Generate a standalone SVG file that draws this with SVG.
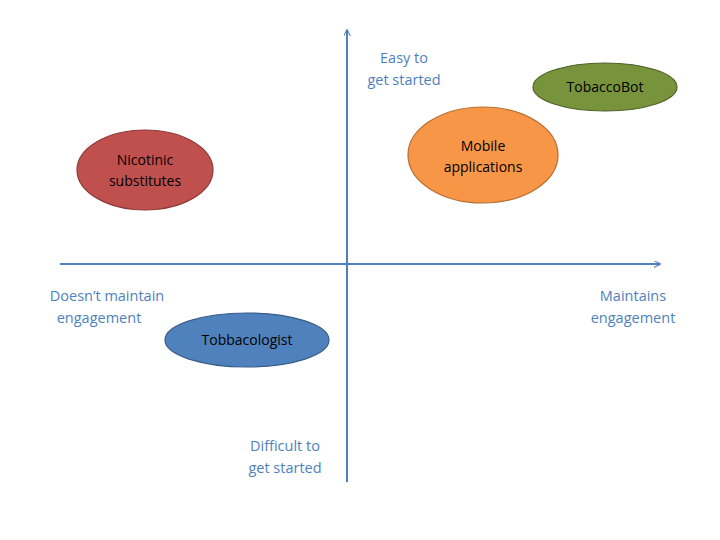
<svg xmlns="http://www.w3.org/2000/svg" width="720" height="540" viewBox="0 0 720 540">
<defs>
<marker id="ah" viewBox="0 0 10 10" refX="9" refY="5" markerWidth="7" markerHeight="7" orient="auto" markerUnits="userSpaceOnUse"><path d="M0,0 L10,5 L0,10" fill="none" stroke="#4f81bd" stroke-width="1.5"/></marker>
<style>
.ax{stroke:#4f81bd;stroke-width:2;fill:none}
.lbl{font-family:"Open Sans","Liberation Sans",Arial,sans-serif;font-size:14.5px;fill:#4f81bd;text-anchor:middle}
.nt{font-family:"Open Sans","Liberation Sans",Arial,sans-serif;font-size:14px;fill:#000;text-anchor:middle}
.el{stroke-width:1.2}
</style>
</defs>
<rect width="720" height="540" fill="#fff"/>
<g id="connectors">
<line class="ax" x1="347" y1="482" x2="347" y2="30" marker-end="url(#ah)"/>
<line class="ax" x1="60" y1="264" x2="660" y2="264" marker-end="url(#ah)"/>
</g>
<g id="labels">
<text class="lbl" x="404" y="63">Easy to</text><text class="lbl" x="404" y="85">get started</text>
<text class="lbl" x="107" y="301">Doesn’t maintain</text><text class="lbl" x="99" y="323">engagement</text>
<text class="lbl" x="633" y="301">Maintains</text><text class="lbl" x="633" y="323">engagement</text>
<text class="lbl" x="285" y="451">Difficult to</text><text class="lbl" x="285" y="473">get started</text>
</g>
<g id="nicotinic"><ellipse class="el" cx="145" cy="170" rx="68" ry="40" fill="#c0504d" stroke="#8c3836"/><text class="nt" x="145" y="165">Nicotinic</text><text class="nt" x="145" y="186">substitutes</text></g>
<g id="mobile"><ellipse class="el" cx="483" cy="155" rx="75" ry="48" fill="#f79646" stroke="#b66d31"/><text class="nt" x="483" y="151">Mobile</text><text class="nt" x="483" y="172">applications</text></g>
<g id="tobaccobot"><ellipse class="el" cx="605" cy="87" rx="72" ry="24" fill="#77933c" stroke="#4f6228"/><text class="nt" x="605" y="92">TobaccoBot</text></g>
<g id="tobbacologist"><ellipse class="el" cx="247" cy="340" rx="82" ry="27" fill="#4f81bd" stroke="#385d8a"/><text class="nt" x="247" y="345">Tobbacologist</text></g>
</svg>
